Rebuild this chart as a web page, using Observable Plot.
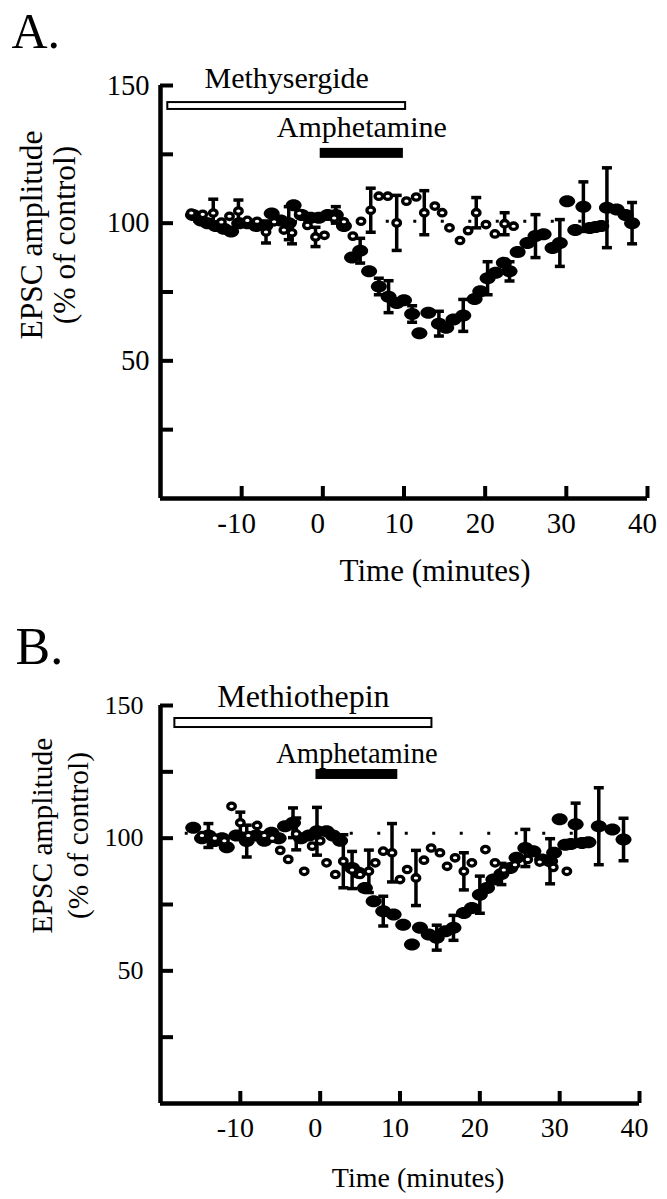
<!DOCTYPE html>
<html><head><meta charset="utf-8">
<script src="https://cdn.jsdelivr.net/npm/d3@7"></script>
<script src="https://cdn.jsdelivr.net/npm/@observablehq/plot@0.6"></script>
<style>
html,body{margin:0;padding:0;background:#fff;}
#wrap{position:relative;width:667px;height:1199px;overflow:hidden;background:#fff;}
#wrap svg{display:block;overflow:visible;}
#wrap svg text{font-family:"Liberation Serif","Times New Roman",Times,serif;}
</style></head><body><div id="wrap"></div>
<script>
// ---------- shared axes ----------
const xDomain = [-20, 40];
const yDomain = [0, 150];
const xTicks = [-10, 0, 10, 20, 30, 40];
const yTicks = [25, 50, 75, 100, 125, 150];
const yTickLabels = [50, 100, 150];
const xTitle = "Time (minutes)";
const yTitle = ["EPSC amplitude", "(% of control)"];

// ---------- Panel A (Methysergide) ----------
const panelA_letter = "A.";
const openA_t = [-16.2,-14.8,-13.5,-12.5,-11.5,-10.4,-9.3,-8.1,-7.0,-6.0,-4.8,-3.8,-2.9,-1.9,-0.9,0.2,1.4,2.6,3.7,4.7,5.9,6.9,8.0,9.1,10.3,11.5,12.5,13.8,14.7,15.6,16.9,17.9,18.9,20.1,21.2,22.4,23.5];
const openA_v = [103.7,103.2,103.7,100.4,102.5,104.4,101.0,100.7,96.8,100.5,97.5,96.5,103.6,99.2,95.0,95.6,101.9,100.5,95.3,100.7,104.7,109.8,109.8,100.1,108.0,109.5,103.8,106.2,103.8,98.3,93.7,97.3,103.8,99.5,96.1,99.8,98.9];
const openA_e = [0,0,5,0,0,4,0,0,4,0,0,4,0,0,3.5,0,0,0,0,0,8,0,0,10,0,0,8,0,0,0,0,0,5.5,0,0,4,0];
const filledA_t = [-16.0,-15.0,-14.2,-13.2,-12.2,-11.3,-10.3,-9.3,-8.2,-7.1,-6.3,-5.2,-4.2,-3.6,-2.6,-1.5,-0.5,0.6,1.6,2.6,3.6,4.6,5.7,6.9,8.1,9.1,10.0,11.0,11.9,13.0,14.3,15.2,16.1,17.3,18.7,19.4,20.3,21.3,22.3,23.0,24.0,25.2,26.2,27.2,28.3,29.2,30.1,31.1,32.1,32.9,33.6,34.3,35.0,36.2,37.3,38.1];
const filledA_v = [103,101,100,99,98,97,100,100,99,99,103.5,101,100,106.5,103,102,102,103,103,99,87.5,90,82.5,77,73.3,71,72,67,60,67.5,63.5,62,65,66.5,72.5,75.3,80,82,85.6,82.5,89.5,92.8,95.3,96,91,92.8,108,97.5,106,98.2,98.6,99,105.6,105,103,100];
const filledA_e = [0,0,0,0,0,0,0,0,0,0,0,0,6,0,0,0,0,0,3,0,0,4.5,0,3,5.8,0,0,3,0,0,4.5,0,0,5.8,0,0,6,0,0,3.5,0,0,7.8,0,0,8.5,0,0,9,0,0,0,14.5,0,0,7.5];
const treatA_name = ["Methysergide", "Amphetamine"];
const treatA_start = [-19.1, -0.2];
const treatA_end = [10.2, 9.8];
const treatA_lo = [141.3, 123.9];
const treatA_hi = [143.8, 126.8];
const treatA_fill = ["white", "black"];
const refA_level = 100.7, refA_from = -15.9, refA_to = 38;

// ---------- Panel B (Methiothepin) ----------
const panelB_letter = "B.";
const openB_t = [-14.8,-13.2,-12.0,-11.1,-10.0,-9.0,-7.9,-7.0,-6.0,-5.0,-4.0,-3.0,-2.0,-1.0,0.0,0.8,1.9,2.9,4.0,5.0,6.1,6.9,7.9,9.0,10.0,10.9,12.0,13.0,13.9,15.0,15.9,16.9,18.0,19.0,20.7,21.9,23.0,24.4,26.0,27.5,29.2,30.9];
const openB_v = [101,100,99,112,105.8,101,104.8,101,100,95.4,92,101.6,87.5,97,99,90.7,86.3,91.3,88,86.3,87.5,90.7,95.1,94.5,84.4,88.2,85,91.7,96.3,94.5,89.4,92.6,87.5,90.7,95.7,90.7,88,90,92,91,89,87.5];
const openB_e = [0,0,0,0,4,0,0,0,0,0,0,6,0,0,0,0,0,10,7,0,8,0,0,11,0,0,10.4,0,0,0,0,0,7,0,0,0,0,0,0,0,0,0];
const filledB_t = [-15.9,-14.8,-14.0,-13.2,-12.3,-11.7,-10.5,-9.2,-8.0,-7.0,-6.1,-5.2,-4.4,-3.4,-2.4,-1.4,-0.4,0.8,1.6,2.5,4.0,4.8,5.6,6.7,7.9,9.2,10.4,11.5,12.5,13.6,14.6,15.7,16.7,18.0,19.0,20.0,20.9,21.7,22.7,23.8,24.6,25.7,26.7,27.8,28.8,29.3,30.0,30.7,31.4,32.0,32.8,33.6,34.9,36.6,38.0];
const filledB_v = [103.9,100,101,98.9,100,96.6,101,98.9,101,99,102,100,104.5,105.8,100,101,102.6,102.6,101,99,88.8,87,81.2,76.2,72.5,71.2,67.4,59.9,66.2,63.7,62.5,64.9,66.2,71.8,73.7,78.7,81.2,84.4,86.5,88.8,92.6,96.3,95.1,92,91.3,94.5,107.1,97.5,97.8,105.2,98.2,98.5,104.5,103.3,99.5];
const filledB_e = [0,0,4.5,0,0,0,0,6,0,0,0,0,0,5.6,0,0,9,0,0,0,0,0,0,0,5.6,0,0,0,0,0,4.7,0,4.7,0,0,7,0,0,4,0,0,7,0,0,8.5,0,0,0,0,8,0,0,14.5,0,8];
const treatB_name = ["Methiothepin", "Amphetamine"];
const treatB_start = [-18.2, -0.4];
const treatB_end = [14.0, 9.6];
const treatB_lo = [141.7, 122.5];
const treatB_hi = [145.1, 125.5];
const treatB_fill = ["white", "black"];
const refB_level = 101.9, refB_from = -16.9, refB_to = 38;

// ---------- drawing ----------
const FONT = '"Liberation Serif","Times New Roman",Times,serif';
const ellipse = (rx, ry) => ({draw(ctx) {
  const k = 0.5523;
  ctx.moveTo(rx, 0);
  ctx.bezierCurveTo(rx, ry * k, rx * k, ry, 0, ry);
  ctx.bezierCurveTo(-rx * k, ry, -rx, ry * k, -rx, 0);
  ctx.bezierCurveTo(-rx, -ry * k, -rx * k, -ry, 0, -ry);
  ctx.bezierCurveTo(rx * k, -ry, rx, -ry * k, rx, 0);
  ctx.closePath();
}});
const capSym = {draw(ctx) { ctx.moveTo(-5, 0); ctx.lineTo(5, 0); }};
const filledSym = ellipse(8, 6);
const openSym = ellipse(3.8, 3.2);

const series = (t, v, e) => t.map((x, i) => ({t: x, v: v[i], e: e[i]}));
const withBars = s => s.filter(d => d.e > 0);
const capsOf = s => withBars(s).flatMap(d => [{t: d.t, v: d.v - d.e}, {t: d.t, v: d.v + d.e}]);

function errMarks(s) {
  return [
    Plot.ruleX(withBars(s), {x: "t", y1: d => d.v - d.e, y2: d => d.v + d.e, stroke: "black", strokeWidth: 3.5}),
    Plot.dot(capsOf(s), {x: "t", y: "v", symbol: capSym, r: 3, fill: "none", stroke: "black", strokeWidth: 3.5})
  ];
}

function panel(p, L) {
  const filled = series(p.ft, p.fv, p.fe);
  const open = series(p.ot, p.ov, p.oe);
  const treat = p.tn.map((n, i) => ({name: n, x1: p.ts[i], x2: p.te[i], y1: p.tlo[i], y2: p.thi[i], fill: p.tf[i]}));
  return Plot.plot({
    width: 667, height: L.height,
    marginLeft: L.ml, marginRight: L.mr, marginTop: L.mt, marginBottom: L.mb,
    x: {domain: xDomain},
    y: {domain: yDomain},
    color: {type: "identity"},
    style: {fontFamily: FONT, fontSize: "28px", color: "black", background: "white", overflow: "visible"},
    marks: [
      Plot.ruleY([p.ref], {x1: p.refFrom, x2: p.refTo, stroke: "black", strokeWidth: 3, strokeDasharray: "3,24.5"}),
      ...errMarks(filled),
      Plot.dot(filled, {x: "t", y: "v", symbol: filledSym, r: 6, fill: "black", stroke: "none"}),
      ...errMarks(open),
      Plot.dot(open, {x: "t", y: "v", symbol: openSym, r: 3, fill: "white", stroke: "black", strokeWidth: 3.3}),
      Plot.rect(treat, {x1: "x1", x2: "x2", y1: "y1", y2: "y2", fill: "fill", stroke: "black", strokeWidth: 2}),
      ...treat.map((d, i) => Plot.text([d], {x: d => (d.x1 + d.x2) / 2, y: "y2", text: "name", dy: L.labelDy[i], textAnchor: "middle", lineAnchor: "bottom", fontFamily: FONT, fontSize: L.labelSize[i], fill: "black"})),
      Plot.ruleX([xDomain[0]], {y1: yDomain[0], y2: yDomain[1], stroke: "black", strokeWidth: 4.5}),
      Plot.ruleY([yDomain[0]], {stroke: "black", strokeWidth: 4.5}),
      Plot.axisY({ticks: yTicks, tickSize: -13, strokeWidth: 4, tickFormat: () => "", label: null}),
      Plot.axisY({ticks: yTickLabels, tickSize: 0, tickPadding: L.yPad, fontFamily: FONT, fontSize: L.yTickSize, label: null}),
      Plot.axisX({ticks: xTicks, tickSize: -12, strokeWidth: 4, tickFormat: () => "", label: null}),
      Plot.axisX({ticks: xTicks, tickSize: 0, tickPadding: 14, dx: -5, fontFamily: FONT, fontSize: L.xTickSize, tickFormat: d => String(d), label: null}),
      Plot.text([xTitle], {frameAnchor: "bottom", text: d => d, dx: L.xtDx, dy: L.xtDy, textAnchor: "middle", lineAnchor: "bottom", fontFamily: FONT, fontSize: L.xtSize, fill: "black"}),
      Plot.text([yTitle.join("\n")], {frameAnchor: "left", text: d => d, rotate: -90, dx: L.ytDx, dy: L.ytDy, textAnchor: "middle", lineAnchor: "middle", lineHeight: L.ytLh, fontFamily: FONT, fontSize: L.ytSize, fill: "black"}),
      Plot.text([p.letter], {frameAnchor: "top-left", text: d => d, dx: L.letDx, dy: L.letDy, textAnchor: "start", lineAnchor: "bottom", fontFamily: FONT, fontSize: L.letSize, fill: "black"})
    ]
  });
}

const wrap = document.getElementById("wrap");
wrap.appendChild(panel(
  {letter: panelA_letter, ft: filledA_t, fv: filledA_v, fe: filledA_e, ot: openA_t, ov: openA_v, oe: openA_e,
   tn: treatA_name, ts: treatA_start, te: treatA_end, tlo: treatA_lo, thi: treatA_hi, tf: treatA_fill,
   ref: refA_level, refFrom: refA_from, refTo: refA_to},
  {height: 600, ml: 160, mr: 20, mt: 85, mb: 102, labelDy: [-15, -12], labelSize: [30, 30],
   yPad: 11, yTickSize: 28.5, xTickSize: 29, xtDx: 31, xtDy: 82, xtSize: 31,
   ytDx: -113, ytDy: -57, ytLh: 1.05, ytSize: 31.5, letDx: -149, letDy: -38, letSize: 50}
));
wrap.appendChild(panel(
  {letter: panelB_letter, ft: filledB_t, fv: filledB_v, fe: filledB_e, ot: openB_t, ov: openB_v, oe: openB_e,
   tn: treatB_name, ts: treatB_start, te: treatB_end, tlo: treatB_lo, thi: treatB_hi, tf: treatB_fill,
   ref: refB_level, refFrom: refB_from, refTo: refB_to},
  {height: 599, ml: 160, mr: 28, mt: 105, mb: 96, labelDy: [-12, -8], labelSize: [32, 28.5],
   yPad: 17, yTickSize: 26, xTickSize: 28, xtDx: 18, xtDy: 83, xtSize: 28,
   ytDx: -102, ytDy: -69, ytLh: 1.2, ytSize: 29.5, letDx: -145, letDy: -42, letSize: 52}
));
</script></body></html>
